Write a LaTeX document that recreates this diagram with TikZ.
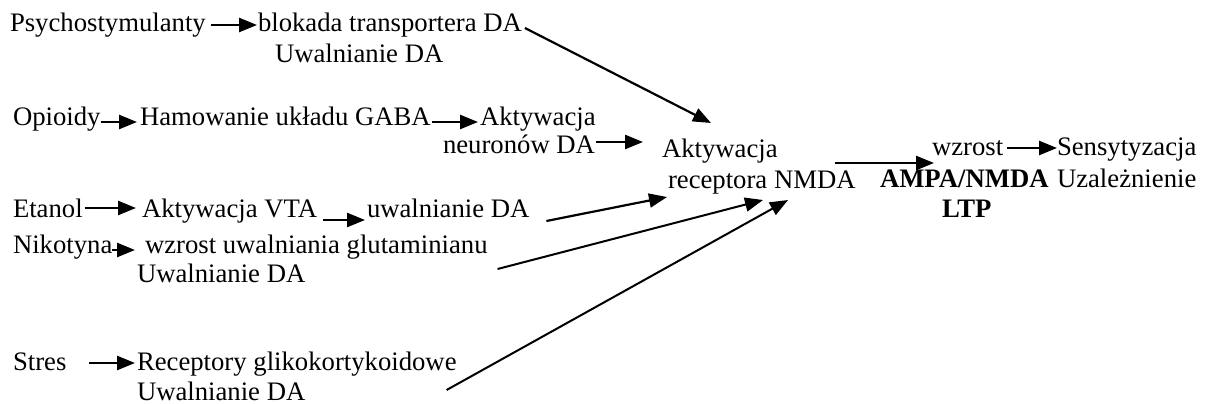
\documentclass[tikz,border=0pt]{standalone}
\usepackage{fontspec}
\setmainfont{Liberation Serif}
\usetikzlibrary{arrows.meta,calc}
\tikzset{
  lbl/.style={inner sep=0pt, outer sep=0pt, anchor=base west, font=\fontsize{26.7}{31}\selectfont},
  blbl/.style={lbl, font=\fontsize{26.7}{31}\selectfont\bfseries},
  arr/.style={line width=2.6pt, -{Triangle[length=18pt,width=14pt]}},
  darr/.style={line width=2.2pt, -{Triangle[length=18pt,width=14pt]}},
}
\begin{document}
\begin{tikzpicture}[x=1pt,y=-1pt]
\useasboundingbox (0,0) rectangle (1205,404);
% nodes
\node[lbl] (psy) at (10,32) {Psychostymulanty};
\node[lbl] (blk) at (258,32) {blokada transportera DA};
\node[lbl] (uwa) at (275,63) {Uwalnianie DA};
\node[lbl] (opi) at (13,125) {Opioidy};
\node[lbl] (ham) at (140,125) {Hamowanie układu GABA};
\node[lbl] (akn) at (480,125) {Aktywacja};
\node[lbl] (neu) at (443,153) {neuronów DA};
\node[lbl] (akt) at (662,157) {Aktywacja};
\node[lbl] (rec) at (668,188) {receptora NMDA};
\node[lbl] (wz) at (932,155) {wzrost};
\node[blbl] (amp) at (880,187) {AMPA/NMDA};
\node[blbl] (ltp) at (942,217) {LTP};
\node[lbl] (sen) at (1057,155) {Sensytyzacja};
\node[lbl] (uza) at (1057,187) {Uzależnienie};
\node[lbl] (eta) at (13,217) {Etanol};
\node[lbl] (vta) at (142,217) {Aktywacja VTA};
\node[lbl] (uwe) at (367,217) {uwalnianie DA};
\node[lbl] (nik) at (13,253) {Nikotyna};
\node[lbl] (glu) at (145,253) {wzrost uwalniania glutaminianu};
\node[lbl] (uwn) at (137,282) {Uwalnianie DA};
\node[lbl] (str) at (13,370) {Stres};
\node[lbl] (rek) at (137,370) {Receptory glikokortykoidowe};
\node[lbl] (uws) at (137,400) {Uwalnianie DA};
% connectors
\draw[arr] ($(psy.base east)+(5,-7)$) -- ($(blk.base west)+(-1,-7)$);
\draw[darr] ($(blk.base east)+(3,-4)$) -- ($(akt.base west)+(49,-34)$);
\draw[arr] ($(opi.base east)+(0,-3)$) -- ($(ham.base west)+(-3,-3)$);
\draw[arr] ($(ham.base east)+(1,-3)$) -- ($(akn.base west)+(-2,-3)$);
\draw[arr] ($(neu.base east)+(1,-11)$) -- ($(akt.base west)+(-19,-15)$);
\draw[arr] ($(eta.base east)+(2,-9)$) -- ($(vta.base west)+(-6,-9)$);
\draw[arr] ($(vta.base east)+(6,3)$) -- ($(uwe.base west)+(-2,3)$);
\draw[darr] ($(uwe.base east)+(17,4)$) -- ($(rec.base west)+(-1,9)$);
\draw[arr] ($(nik.base east)+(0,-3)$) -- ($(glu.base west)+(-10,-3)$);
\draw[darr, line width=2pt] ($(glu.base east)+(10,16)$) -- ($(rec.base west)+(95,12)$);
\draw[arr] ($(str.base east)+(23,-7)$) -- ($(rek.base west)+(-2,-7)$);
\draw[darr, line width=2pt] ($(rek.base east)+(-10,20)$) -- ($(rec.base west)+(120,12)$);
\draw[arr] ($(rec.base west)+(167,-25)$) -- ($(wz.base west)+(2,8)$);
\draw[arr] ($(wz.base east)+(4,-7)$) -- ($(sen.base west)+(0,-7)$);
\end{tikzpicture}
\end{document}
